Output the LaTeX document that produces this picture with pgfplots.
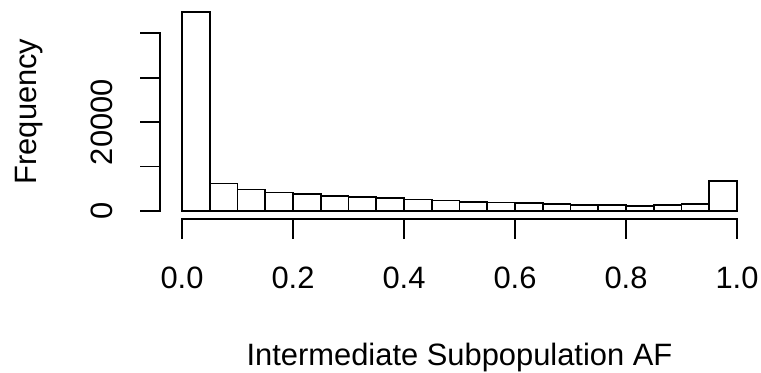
\documentclass[border=0pt]{standalone}
\usepackage{fontspec}
\setmainfont{Liberation Sans}
\usepackage{pgfplots}
\pgfplotsset{compat=1.18}
\begin{document}
\begin{tikzpicture}
\path[use as bounding box] (-159.8bp,-154bp) rectangle (601.2bp,219bp);
\begin{axis}[
  scale only axis,
  width=599.4bp, height=215bp,
  xmin=-0.04, xmax=1.04,
  ymin=-1792, ymax=46592,
  axis line style={draw=none},
  tick align=outside,
  xtick pos=lower, ytick pos=left,
  major tick length=19.5bp,
  tick style={black, line width=1.7bp},
  xtick={0,0.2,0.4,0.6,0.8,1},
  xticklabels={0.0,0.2,0.4,0.6,0.8,1.0},
  ytick={0,10000,20000,30000,40000},
  yticklabels={0,,20000,,},
  scaled y ticks=false,
  every tick label/.append style={font=\fontsize{31}{36}\selectfont, inner sep=0pt},
  xticklabel style={anchor=base},
  xticklabel shift=50bp,
  yticklabel style={rotate=90, anchor=base},
  yticklabel shift=28bp,
  every axis x label/.style={at={(axis description cs:0.5,0)}, anchor=base, yshift=-146bp, inner sep=0pt, font=\fontsize{31}{36}\selectfont},
  every axis y label/.style={at={(axis description cs:0,0.5)}, rotate=90, anchor=base, yshift=122.8bp, inner sep=0pt, font=\fontsize{31}{36}\selectfont},
  xlabel={Intermediate Subpopulation AF},
  ylabel={Frequency},
  clip=false,
]
\addplot[ybar interval, fill=white, draw=black, line width=1.7bp] coordinates {
(0.00,44800) (0.05,6230) (0.10,4880) (0.15,4200) (0.20,3830)
(0.25,3450) (0.30,3180) (0.35,2930) (0.40,2630) (0.45,2400)
(0.50,2100) (0.55,1950) (0.60,1800) (0.65,1650) (0.70,1430)
(0.75,1350) (0.80,1200) (0.85,1350) (0.90,1650) (0.95,6830)
(1.00,6830)
};
\draw[line width=1.7bp, line cap=rect] (axis cs:0,-1792) -- (axis cs:1,-1792);
\draw[line width=1.7bp, line cap=rect] (axis cs:-0.04,0) -- (axis cs:-0.04,40000);
\end{axis}
\end{tikzpicture}
\end{document}
